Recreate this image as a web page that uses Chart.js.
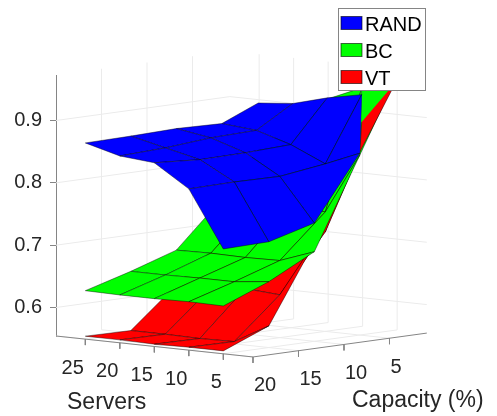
<!DOCTYPE html>
<html>
<head>
<meta charset="utf-8">
<title>Servers / Capacity surface</title>
<script src="https://cdn.jsdelivr.net/npm/chart.js@4/dist/chart.umd.min.js"></script>
<style>
	html, body { margin: 0; padding: 0; background: #fff; }
	canvas { display: block; }
</style>
</head>
<body>
<canvas id="myChart" width="497" height="416"></canvas>
<script>
const servers = [5, 10, 15, 20, 25];
const capacities = [1, 5, 10, 15, 20];
const capacityTicks = [5, 10, 15, 20];
const valueTicks = [0.6, 0.7, 0.8, 0.9];
const seriesNames = ['RAND', 'BC', 'VT'];

// one row per capacity (1, 5, 10, 15, 20), one column per server count (5 .. 25)
const rand = [
	[0.960, 0.926, 0.915, 0.900, 0.895],
	[0.846, 0.823, 0.848, 0.865, 0.870],
	[0.744, 0.813, 0.845, 0.863, 0.872],
	[0.724, 0.814, 0.844, 0.857, 0.870],
	[0.7225, 0.813, 0.849, 0.854, 0.869]
];
const bc = [
	[0.959, 0.937, 0.913, 0.866, 0.820],
	[0.843, 0.746, 0.751, 0.749, 0.749],
	[0.698, 0.678, 0.677, 0.678, 0.677],
	[0.660, 0.654, 0.654, 0.653, 0.653],
	[0.631, 0.632, 0.631, 0.631, 0.632]
];
const vt = [
	[0.953, 0.882, 0.832, 0.793, 0.756],
	[0.848, 0.714, 0.687, 0.684, 0.683],
	[0.712, 0.623, 0.627, 0.622, 0.621],
	[0.589, 0.558, 0.557, 0.558, 0.558],
	[0.559, 0.559, 0.558, 0.559, 0.559]
];

const seriesColors = ['#0000ff', '#00ff00', '#ff0000'];
const textColor = '#262626';
const axisColor = '#858585';
const gridColor = '#ebebeb';
const font = '"Liberation Sans", Arial, sans-serif';

// view of the 3d box, x and y scales of the chart are the flat picture of it
const sMin = 0.7, sMax = 29.25;
const cMin = 0.9, cMax = 20;
const zMin = 0.5543, zMax = 0.973;
const sWide = 6.9, cWide = 9.1;
const sDrop = 0.734 / 623, cRise = 1.25 / 623;

function project(s, c, z) {
	return {
		x: (sMax - s) * sWide + (cMax - c) * cWide,
		y: z - (sMax - s) * sDrop + (cMax - c) * cRise
	};
}

function lineSet(points, color, width) {
	return {
		data: points,
		showLine: true,
		pointRadius: 0,
		borderColor: color,
		borderWidth: width,
		backgroundColor: 'transparent',
		clip: false
	};
}

function cellSet(points, color) {
	const set = lineSet(points, 'rgba(0,0,0,0.85)', 0.5);
	set.polyColor = color;
	return set;
}

function corner(values, i, j) {
	return project(servers[j], capacities[i], values[i][j]);
}

// all cells from back to front, the cell at capacity 1 / servers 5 is left out
function surfaceCells(values, color) {
	const sets = [];
	for (let i = 0; i < capacities.length - 1; i++) {
		for (let j = servers.length - 2; j >= 0; j--) {
			if (i === 0 && j === 0) {
				sets.push(cellSet([corner(values, 0, 1), corner(values, 1, 1), corner(values, 1, 0)], color));
				continue;
			}
			const a = corner(values, i, j);
			sets.push(cellSet([a, corner(values, i, j + 1), corner(values, i + 1, j + 1), corner(values, i + 1, j), a], color));
		}
	}
	return sets;
}

function sideTriangle(values, color) {
	return cellSet([corner(values, 0, 0), corner(values, 1, 0), corner(values, 0, 1)], color);
}

function gridSets() {
	const sets = [];
	const add = (a, b) => sets.push(lineSet([a, b], gridColor, 1));
	capacityTicks.forEach(c => {
		if (c < cMax) add(project(sMax, c, zMin), project(sMax, c, zMax));
		add(project(sMax, c, zMin), project(sMin, c, zMin));
	});
	servers.forEach(s => {
		add(project(s, cMin, zMin), project(s, cMin, zMax));
		add(project(s, cMin, zMin), project(s, cMax, zMin));
	});
	valueTicks.forEach(z => {
		add(project(sMax, cMax, z), project(sMax, cMin, z));
		add(project(sMax, cMin, z), project(sMin, cMin, z));
	});
	return sets;
}

function axisSets() {
	const sets = [
		lineSet([project(sMax, cMax, zMin), project(sMin, cMax, zMin)], axisColor, 1),
		lineSet([project(sMin, cMax, zMin), project(sMin, cMin, zMin)], axisColor, 1)
	];
	servers.forEach(s => {
		sets.push(lineSet([project(s, cMax, zMin), project(s, cMax, zMin - 0.0096)], axisColor, 1));
	});
	capacityTicks.forEach(c => {
		sets.push(lineSet([project(sMin, c, zMin), project(sMin, c, zMin - 0.0096)], axisColor, 1));
	});
	return sets;
}

// painter order: what comes last ends on top
const painted = [].concat(
	gridSets(),
	axisSets(),
	surfaceCells(vt, seriesColors[2]),
	surfaceCells(bc, seriesColors[1]),
	[sideTriangle(rand, seriesColors[0]), sideTriangle(bc, seriesColors[1]), sideTriangle(vt, seriesColors[2])],
	surfaceCells(rand, seriesColors[0])
);

const polygonFill = {
	id: 'polygonFill',
	beforeDatasetDraw(chart, args) {
		const color = chart.data.datasets[args.index].polyColor;
		if (!color) return;
		const ctx = chart.ctx;
		ctx.save();
		ctx.beginPath();
		args.meta.data.forEach((p, i) => (i ? ctx.lineTo(p.x, p.y) : ctx.moveTo(p.x, p.y)));
		ctx.closePath();
		ctx.fillStyle = color;
		ctx.fill();
		ctx.restore();
	}
};

const boxText = {
	id: 'boxText',
	afterDraw(chart) {
		const ctx = chart.ctx;
		const xs = chart.scales.x, ys = chart.scales.y;
		const at = p => ({ x: xs.getPixelForValue(p.x), y: ys.getPixelForValue(p.y) });
		ctx.save();
		ctx.fillStyle = textColor;
		ctx.textBaseline = 'middle';
		ctx.font = '20px ' + font;

		ctx.textAlign = 'right';
		servers.forEach(s => {
			const p = at(project(s, cMax, zMin));
			ctx.fillText(String(s), p.x - 1.5, p.y + 29);
		});
		ctx.textAlign = 'left';
		capacityTicks.forEach(c => {
			const p = at(project(sMin, c, zMin));
			ctx.fillText(String(c), p.x + 1, p.y + 29);
		});

		ctx.textBaseline = 'alphabetic';
		ctx.font = '23px ' + font;
		ctx.fillText('Servers', 67, 409);
		ctx.fillText('Capacity (%)', 352, 407);

		// legend box
		ctx.fillStyle = '#fff';
		ctx.fillRect(338.5, 8.5, 87, 82);
		ctx.strokeStyle = '#858585';
		ctx.lineWidth = 1;
		ctx.strokeRect(338.5, 8.5, 87, 82);
		ctx.font = '20px ' + font;
		seriesNames.forEach((name, i) => {
			const top = 16.5 + i * 27;
			ctx.fillStyle = seriesColors[i];
			ctx.fillRect(341, top, 21, 13);
			ctx.strokeStyle = 'rgba(0,0,0,0.6)';
			ctx.strokeRect(341, top, 21, 13);
			ctx.fillStyle = '#000';
			ctx.fillText(name, 365, top + 14);
		});
		ctx.restore();
	}
};

function drawChart() {
	const ctx = document.getElementById('myChart');

	new Chart(ctx, {
		type: 'scatter',
		data: { datasets: painted.slice().reverse() },
		plugins: [polygonFill, boxText],
		options: {
			responsive: false,
			animation: false,
			events: [],
			layout: { padding: { top: 75, bottom: 80 } },
			plugins: { legend: { display: false }, tooltip: { enabled: false } },
			scales: {
				x: { type: 'linear', display: false, min: 0, max: 441 },
				y: {
					type: 'linear',
					min: zMin,
					max: zMax,
					afterBuildTicks: scale => {
						scale.ticks = valueTicks.map(v => ({ value: v }));
					},
					afterFit: scale => {
						scale.width = 56;
					},
					border: { color: axisColor },
					grid: { drawOnChartArea: false, tickLength: 6, tickColor: axisColor },
					ticks: {
						color: textColor,
						padding: 8,
						font: { family: font, size: 20 },
						callback: v => v.toFixed(1)
					}
				}
			}
		}
	});
}
drawChart();
</script>
</body>
</html>
